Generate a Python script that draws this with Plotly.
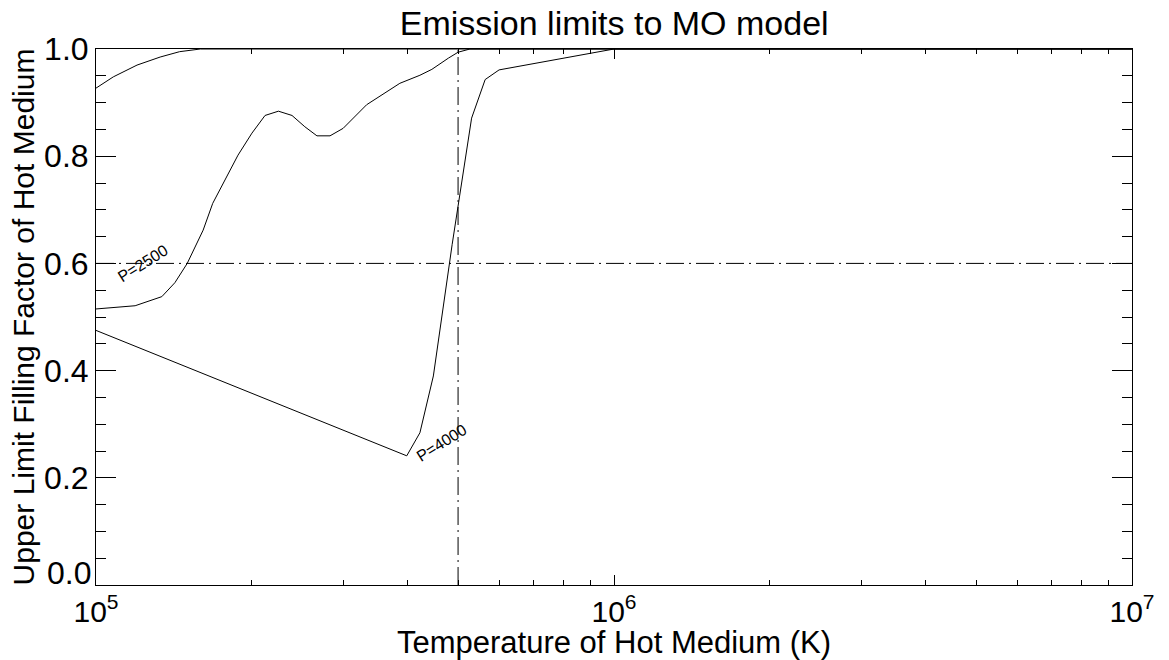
import math
import plotly.graph_objects as go

# Upper-limit filling factor curves vs. hot-medium temperature (K)
T_top = [1.0e5, 1.08e5, 1.2e5, 1.33e5, 1.45e5, 1.59e5, 1.0e7]
f_top = [0.927, 0.948, 0.970, 0.985, 0.995, 1.0, 1.0]

T_p2500 = [1.0e5, 1.19e5, 1.34e5, 1.42e5, 1.5e5, 1.61e5, 1.68e5, 1.88e5, 2.0e5,
           2.12e5, 2.25e5, 2.39e5, 2.53e5, 2.67e5, 2.83e5, 3.0e5, 3.33e5, 3.59e5,
           3.86e5, 4.22e5, 4.45e5, 4.79e5, 5.0e5, 5.27e5, 1.0e7]
f_p2500 = [0.515, 0.521, 0.538, 0.564, 0.600, 0.662, 0.712, 0.802, 0.843,
           0.876, 0.884, 0.876, 0.855, 0.838, 0.838, 0.852, 0.896, 0.917,
           0.936, 0.951, 0.962, 0.983, 0.994, 1.0, 1.0]

T_p4000 = [1.0e5, 3.98e5, 4.22e5, 4.48e5, 4.87e5, 5.31e5, 5.64e5, 6.0e5, 1.0e6, 1.0e7]
f_p4000 = [0.475, 0.241, 0.284, 0.390, 0.635, 0.871, 0.943, 0.961, 1.0, 1.0]

# Reference markers
T_ref = 5.0e5
f_ref = 0.6
T_range = [1.0e5, 1.0e7]
f_range = [0.0, 1.0]

# Contour-style labels: (text, T, f)
labels = [("P=2500", 1.23e5, 0.60), ("P=4000", 4.66e5, 0.265)]

x_tickvals = [1e5, 1e6, 1e7]
x_ticktext = ["10<sup>5</sup>", "10<sup>6</sup>", "10<sup>7</sup>"]
x_minor = [k * 10 ** e for e in (5, 6) for k in range(2, 10)]
# the 0.0 label sits above its tick so it clears the 10^5 label
y_tickvals = [0.0, 0.2, 0.4, 0.6, 0.8, 1.0]
y_ticktext = ["", "0.2", "0.4", "0.6", "0.8", "1.0"]
y_zero_label = "0.0"

FONT = "Liberation Sans, Arial, sans-serif"
line_style = dict(color="black", width=1)
ref_style = dict(color="black", width=1, dash="18px,5px,2px,5px")

fig = go.Figure()
for T, f in ((T_top, f_top), (T_p2500, f_p2500), (T_p4000, f_p4000)):
    fig.add_trace(go.Scatter(x=T, y=f, mode="lines", line=line_style,
                             showlegend=False, hoverinfo="skip"))

fig.add_trace(go.Scatter(x=T_range, y=[f_ref, f_ref], mode="lines",
                         line=ref_style, showlegend=False, hoverinfo="skip"))
fig.add_trace(go.Scatter(x=[T_ref, T_ref], y=f_range, mode="lines",
                         line=ref_style, showlegend=False, hoverinfo="skip"))

# annotation x positions on a log axis are given in log10 units
for text, T, f in labels:
    fig.add_annotation(x=math.log10(T), y=f, xref="x", yref="y", text=text,
                       showarrow=False, textangle=-32,
                       font=dict(family=FONT, size=16, color="black"))

fig.add_annotation(x=0, y=0, xref="paper", yref="y", text=y_zero_label,
                   showarrow=False, xanchor="right", yanchor="bottom",
                   xshift=-3, yshift=-8,
                   font=dict(family=FONT, size=32, color="black"))

fig.update_layout(
    width=1169, height=660,
    margin=dict(l=96, r=37, t=49, b=75),
    paper_bgcolor="white", plot_bgcolor="white",
    font=dict(family=FONT, color="black"),
    title=dict(text="Emission limits to MO model", x=0.5254, xanchor="center",
               y=0.965, yanchor="middle", yref="container",
               font=dict(family=FONT, size=34, color="black")),
)

fig.update_xaxes(
    type="log", range=[5, 7], automargin=False,
    tickvals=x_tickvals, ticktext=x_ticktext,
    ticks="inside", ticklen=10, tickwidth=1, tickcolor="black",
    minor=dict(tickvals=x_minor, ticks="inside", ticklen=5, tickcolor="black"),
    showline=True, linecolor="black", linewidth=1, mirror="ticks",
    showgrid=False, zeroline=False,
    tickfont=dict(family=FONT, size=30, color="black"),
    title=dict(text="Temperature of Hot Medium (K)", standoff=0,
               font=dict(family=FONT, size=31, color="black")),
)
fig.update_yaxes(
    range=[0, 1], automargin=False,
    tickvals=y_tickvals, ticktext=y_ticktext,
    ticks="inside", ticklen=20, tickwidth=1, tickcolor="black",
    minor=dict(dtick=0.05, ticks="inside", ticklen=10, tickcolor="black"),
    showline=True, linecolor="black", linewidth=1, mirror="ticks",
    showgrid=False, zeroline=False,
    tickfont=dict(family=FONT, size=32, color="black"),
    title=dict(text="Upper Limit Filling Factor of Hot Medium", standoff=0,
               font=dict(family=FONT, size=30, color="black")),
)

fig.write_html("out.html")
